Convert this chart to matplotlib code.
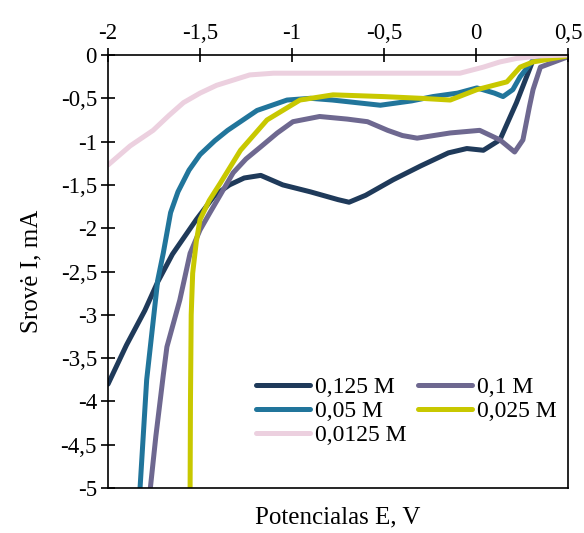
import matplotlib.pyplot as plt
from matplotlib.ticker import FuncFormatter, MultipleLocator

plt.rcParams['font.family'] = ['Liberation Serif', 'DejaVu Serif']

# Duomenys (nuskaityti nuo paveikslo)
e_0125 = [-2.0, -1.90, -1.80, -1.73, -1.65, -1.52, -1.42, -1.34, -1.26, -1.17, -1.05,
          -0.90, -0.75, -0.69, -0.60, -0.45, -0.30, -0.15, -0.05, 0.04, 0.13, 0.22, 0.31, 0.40, 0.5]
i_0125 = [-3.80, -3.35, -2.95, -2.62, -2.30, -1.90, -1.62, -1.50, -1.42, -1.39, -1.50,
          -1.58, -1.67, -1.70, -1.62, -1.44, -1.28, -1.13, -1.08, -1.10, -0.98, -0.55, -0.06, -0.04, -0.02]

e_01 = [-1.77, -1.74, -1.70, -1.68, -1.61, -1.554, -1.50, -1.446, -1.38, -1.32, -1.25, -1.17,
        -1.08, -0.995, -0.85, -0.70, -0.59, -0.48, -0.40, -0.32, -0.14, 0.02, 0.13, 0.21,
        0.255, 0.29, 0.31, 0.35, 0.5]
i_01 = [-5.0, -4.40, -3.70, -3.37, -2.83, -2.29, -2.02, -1.82, -1.58, -1.36, -1.20, -1.06,
        -0.90, -0.77, -0.71, -0.74, -0.77, -0.87, -0.93, -0.96, -0.90, -0.87, -0.98, -1.12,
        -0.98, -0.60, -0.40, -0.14, -0.02]

e_005 = [-1.826, -1.79, -1.73, -1.70, -1.66, -1.62, -1.56, -1.50, -1.42, -1.35, -1.19, -1.027,
         -0.90, -0.78, -0.52, -0.35, -0.234, -0.10, 0.005, 0.10, 0.147, 0.20, 0.24, 0.31, 0.5]
i_005 = [-5.0, -3.75, -2.60, -2.29, -1.82, -1.58, -1.33, -1.15, -0.99, -0.87, -0.64, -0.52,
         -0.50, -0.52, -0.58, -0.53, -0.48, -0.44, -0.38, -0.44, -0.48, -0.40, -0.25, -0.06, -0.01]

e_0025 = [-1.554, -1.552, -1.548, -1.54, -1.52, -1.50, -1.45, -1.39, -1.28, -1.136, -0.957,
          -0.777, -0.505, -0.30, -0.14, 0.005, 0.168, 0.24, 0.31, 0.5]
i_0025 = [-5.0, -4.0, -3.0, -2.52, -2.15, -1.90, -1.68, -1.48, -1.10, -0.75, -0.52,
          -0.46, -0.48, -0.50, -0.52, -0.40, -0.31, -0.14, -0.08, -0.01]

e_00125 = [-2.0, -1.88, -1.755, -1.67, -1.59, -1.50, -1.41, -1.23, -1.10, -0.957, -0.50,
           -0.087, 0.04, 0.13, 0.22, 0.35, 0.5]
i_00125 = [-1.27, -1.05, -0.87, -0.70, -0.55, -0.44, -0.35, -0.23, -0.21, -0.21, -0.21,
           -0.21, -0.14, -0.08, -0.04, -0.01, 0.0]

serijos = [
    (e_0125, i_0125, '0,125 M', '#1f3a5a'),
    (e_01, i_01, '0,1 M', '#6e6890'),
    (e_005, i_005, '0,05 M', '#21759b'),
    (e_0025, i_0025, '0,025 M', '#c8c800'),
    (e_00125, i_00125, '0,0125 M', '#ecd0df'),
]

fig = plt.figure(figsize=(5.84, 5.33), dpi=100)
ax = fig.add_axes([0.185, 0.0844, 0.7876, 0.8124])

linijos = []
for e, i, pav, spalva in serijos:
    l, = ax.plot(e, i, color=spalva, linewidth=3.6, label=pav,
                 solid_capstyle='round', solid_joinstyle='round')
    linijos.append(l)

ax.set_xlim(-2, 0.5)
ax.set_ylim(-5, 0)
ax.xaxis.set_major_locator(MultipleLocator(0.5))
ax.yaxis.set_major_locator(MultipleLocator(0.5))

def kablelis(v, pos):
    return f"{v:g}".replace('.', ',')

ax.xaxis.set_major_formatter(FuncFormatter(kablelis))
ax.yaxis.set_major_formatter(FuncFormatter(kablelis))

ax.xaxis.tick_top()
ax.tick_params(axis='x', direction='inout', length=10, width=1.2, labelsize=16.5, pad=3)
ax.tick_params(axis='y', direction='inout', length=10, width=1.2, labelsize=16.5, pad=3)
for s in ax.spines.values():
    s.set_linewidth(1.2)

ax.set_xlabel("Potencialas E, V", fontsize=18, labelpad=13)
ax.xaxis.set_label_position('bottom')
ax.set_ylabel("Srovė I, mA", fontsize=18, labelpad=13)

# eilutėmis, kaip originale
tvarka = [0, 2, 4, 1, 3]
ax.legend([linijos[k] for k in tvarka], [serijos[k][2] for k in tvarka],
          loc='lower right', bbox_to_anchor=(0.975, 0.097), ncol=2, frameon=False,
          fontsize=17, handlelength=2.3, handletextpad=0.2, columnspacing=0.5,
          labelspacing=0.1, borderaxespad=0.0, borderpad=0.0)

fig.savefig("out.png", dpi=100)
